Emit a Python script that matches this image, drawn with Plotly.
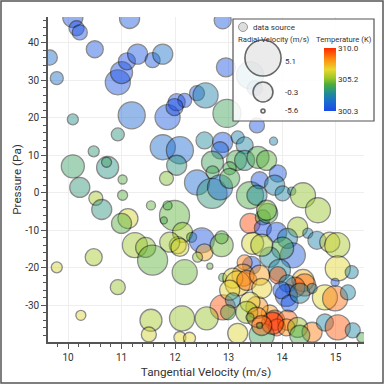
import plotly.graph_objects as go

# ---- data ----
tangential = [10.09,10.16,10.22,10.50,9.66,9.79,11.15,10.93,11.00,11.10,11.30,11.58,11.77,11.19,10.09,10.93,10.48,10.09,10.74,10.72,
              10.22,11.02,11.84,11.77,12.09,11.86,12.03,12.18,12.41,12.57,12.03,12.41,12.89,12.95,12.97,13.40,13.49,13.53,13.84,12.55,
              12.89,13.17,13.30,12.84,12.70,13.15,13.30,13.55,13.71,13.02,12.70,12.69,12.84,13.02,13.40,13.58,13.53,11.99,13.40,13.64,
              13.64,13.92,13.86,14.01,14.18,14.39,14.67,13.73,13.71,13.90,14.29,14.48,14.10,14.20,14.01,13.77,14.65,14.89,15.03,15.04,
              15.30,14.99,13.95,13.92,14.39,14.42,14.24,14.10,14.08,13.99,14.14,14.33,14.80,14.99,15.23,14.56,13.77,13.53,13.86,14.10,
              13.90,14.08,14.29,14.56,14.80,15.04,15.32,15.49,14.33,12.89,12.59,13.17,13.62,13.82,12.14,12.05,12.31,12.50,12.55,12.87,
              12.87,12.42,12.65,12.18,13.45,13.62,13.43,13.30,13.27,12.89,13.08,13.17,13.34,13.58,13.02,13.62,13.08,12.99,13.40,13.34,
              13.53,13.62,12.13,13.40,13.58,12.09,12.27,10.52,10.63,11.02,11.55,11.86,11.79,11.12,11.00,11.25,11.45,11.58,10.48,9.79,
              11.90,12.09,10.93,10.24,11.55,11.51,11.99]
pressure = [46.7,43.8,42.7,38.2,36.0,30.5,46.4,29.4,32.0,35.0,36.9,35.3,36.9,20.6,19.5,15.5,11.0,7.0,6.7,8.1,
            1.4,3.5,3.8,12.1,11.3,20.1,24.1,24.6,26.5,25.9,7.3,2.7,45.9,33.4,21.1,31.3,27.8,17.9,13.7,13.9,
            13.4,14.7,12.6,11.3,8.1,8.6,8.6,9.4,8.6,6.5,5.4,-0.2,1.4,3.8,-0.7,3.3,-0.7,-6.1,-8.2,-6.6,
            -9.5,5.1,2.0,-0.2,0.4,-0.7,-4.7,-5.5,-4.7,-10.6,-9.2,-10.8,-12.2,-16.7,-14.8,-17.2,-12.7,-13.2,-14.0,-20.2,
            -21.2,-23.9,-20.7,-22.0,-23.4,-24.6,-25.2,-24.2,-27.4,-26.0,-29.5,-26.8,-27.9,-28.2,-26.6,-25.5,-32.2,-30.6,-34.0,-34.0,
            -35.9,-35.9,-35.9,-37.2,-34.6,-35.9,-36.7,-38.6,-38.0,-30.6,-33.5,-37.5,-38.0,-34.8,-10.6,-14.0,-11.9,-12.7,-15.9,-14.0,
            -11.9,-17.2,-19.6,-21.2,-13.5,-14.0,-19.4,-18.6,-22.0,-22.6,-22.8,-24.2,-23.4,-22.0,-26.0,-25.5,-28.7,-31.9,-29.2,-31.9,
            -33.2,-35.4,-33.5,-33.2,-35.4,-38.6,-38.8,-1.5,-4.5,-0.7,-3.4,-3.4,-7.4,-6.9,-8.2,-14.0,-14.6,-18.0,-17.2,-19.9,
            -13.2,-14.6,-25.2,-32.7,-34.0,-37.8,22.8]
radial = [-0.27,-1.93,-1.93,-1.27,-1.93,-2.6,-0.27,1.4,0.4,-1.27,-0.27,-1.93,-0.27,2.07,-3.27,-2.6,-3.27,0.73,0.4,-3.6,
          -0.27,-3.93,-2.27,1.4,2.07,1.4,-1.27,-2.27,-1.93,1.4,-0.27,1.4,-1.27,-0.6,2.4,2.07,-1.93,-1.93,-4.27,-1.27,
          -0.27,-2.6,-1.27,-1.27,0.4,-0.27,-0.27,0.4,-0.27,-2.6,-2.6,3.07,1.4,-0.27,2.07,-1.27,-0.27,3.07,-0.27,-1.93,
          -1.27,-1.27,-0.27,-1.93,-4.27,1.4,1.4,-0.27,-0.27,-0.27,-0.27,-3.6,-0.27,1.4,0.4,-0.27,-0.93,-0.27,1.4,1.4,
          -2.6,-4.27,0.4,-1.27,0.4,0.4,-0.27,-1.27,0.4,-1.27,-1.27,-0.27,1.4,1.4,-1.93,-3.6,-1.27,0.4,-0.27,-0.27,
          -1.27,-1.27,-0.27,-0.27,-1.27,1.4,-1.93,-3.6,-0.27,1.4,0.73,-0.27,1.4,0.4,-0.27,-1.27,-3.6,1.4,-1.27,0.73,
          -2.6,-3.6,-4.93,1.4,0.4,0.4,-0.93,-1.93,0.4,-4.27,-0.27,1.4,-0.27,-0.27,-0.27,-0.27,-1.93,-1.93,-0.27,0.4,
          -0.27,-0.27,1.4,-4.27,-4.93,-2.93,-2.93,-2.27,-0.27,-3.6,-3.93,-3.93,-4.6,-0.27,-0.27,1.4,-0.27,3.07,-1.27,-3.27,
          -0.27,-0.93,-1.93,-3.6,0.4,-1.93,-1.27]
temperature = [300.6,300.4,300.7,300.8,301.8,301.9,300.9,300.7,300.5,300.4,300.8,300.9,301.9,301.6,303.2,303.4,303.6,303.8,303.3,303.9,
               303.5,304.5,305.0,301.8,301.7,300.9,300.6,300.5,300.8,302.6,303.4,301.7,300.9,300.7,304.0,302.8,301.9,300.7,302.6,302.9,
               300.8,302.5,302.7,301.5,304.0,304.2,303.4,304.3,304.6,304.2,304.0,303.5,301.8,304.2,304.3,300.7,302.8,304.6,309.5,304.4,
               300.4,300.9,302.6,302.7,302.9,305.2,305.3,304.1,305.0,300.8,305.4,302.6,302.6,301.0,304.3,302.9,302.6,306.5,305.6,306.6,
               302.7,300.8,302.8,309.2,307.5,309.0,309.3,302.7,300.5,300.8,300.9,302.8,306.6,308.8,302.7,302.8,308.0,308.2,309.8,309.0,
               309.3,308.3,305.3,308.6,302.7,309.2,302.7,304.3,304.3,309.3,305.3,306.5,304.0,309.9,305.3,306.4,304.3,300.7,307.8,304.8,
               304.4,305.1,304.6,304.8,306.4,305.6,300.5,308.5,308.0,304.4,306.7,307.2,308.8,308.0,306.6,306.8,302.8,304.3,306.5,305.4,
               308.2,309.0,305.3,304.3,304.3,306.6,306.7,305.6,303.4,304.5,304.6,304.3,304.2,306.3,304.5,305.4,305.2,304.6,305.5,306.3,
               305.3,306.3,305.3,306.5,305.5,306.2,300.4]

x_ticks = [10, 11, 12, 13, 14, 15]
y_ticks = [-30, -20, -10, 0, 10, 20, 30, 40]
y_ticktext = ["-30", "-20", "-10", "0", "10", "20", "30", "40"]
size_legend_vals = [5.1, -0.3, -5.6]
size_legend_text = ["5.1", "-0.3", "-5.6"]
temp_ticks = [300.3, 305.2, 310.0]
temp_ticktext = ["300.3", "305.2", "310.0"]
TMIN, TMAX = 300.3, 310.0
VMIN = -5.6

def diam(v):
    return 4 + (v - VMIN) * 3.0

colorscale = [[0.0, '#1a4ae8'], [0.15, '#1a6cd0'], [0.28, '#1e8c96'], [0.42, '#4aac40'],
              [0.52, '#9cc626'], [0.66, '#e8d830'], [0.82, '#ff8c10'], [1.0, '#ff2a00']]

# layout geometry (pixels)
W = H = 384
ML, MR, MT, MB = 48, 20, 17, 42
PW, PH = W - ML - MR, H - MT - MB
def xp(px):
    return (px - ML) / PW
def yp(py):
    return (H - MB - py) / PH

FONT = "Roboto"
TXT = "#333333"

fig = go.Figure()
fig.add_trace(go.Scatter(
    x=tangential, y=pressure, mode="markers", cliponaxis=True,
    marker=dict(
        size=[diam(v) for v in radial], sizemode="diameter",
        color=temperature, colorscale=colorscale, cmin=TMIN, cmax=TMAX,
        opacity=0.45, line=dict(color="#000000", width=1.3),
        showscale=True,
        colorbar=dict(
            x=xp(324), xanchor="left", y=yp(79.5), yanchor="middle",
            thickness=12, thicknessmode="pixels",
            len=63 / PH, lenmode="fraction",
            xpad=0, ypad=0, outlinewidth=0,
            tickmode="array", tickvals=temp_ticks, ticktext=temp_ticktext,
            ticks="", ticklabelposition="outside",
            tickfont=dict(family=FONT, size=8, color=TXT),
        ),
    ),
    showlegend=False, hoverinfo="skip",
))

shapes = []
annotations = []
# outer frame
shapes.append(dict(type="rect", xref="paper", yref="paper",
                   x0=xp(1), x1=xp(383), y0=yp(383), y1=yp(1),
                   line=dict(color="#555555", width=1.5), fillcolor="rgba(0,0,0,0)", layer="above"))
# legend box
shapes.append(dict(type="rect", xref="paper", yref="paper",
                   x0=xp(233), x1=xp(374), y0=yp(121), y1=yp(19),
                   line=dict(color="#555555", width=1.2), fillcolor="rgba(255,255,255,0.85)", layer="above"))
# data source marker
shapes.append(dict(type="circle", xref="paper", yref="paper", xsizemode="pixel", ysizemode="pixel",
                   xanchor=xp(243), yanchor=yp(27), x0=-4.5, x1=4.5, y0=-4.5, y1=4.5,
                   fillcolor="#dddddd", line=dict(color="#999999", width=1), layer="above"))
annotations.append(dict(text="data source", xref="paper", yref="paper", x=xp(251), y=yp(27),
                        xanchor="left", yanchor="middle", showarrow=False,
                        font=dict(family=FONT, size=8, color=TXT)))
annotations.append(dict(text="Radial Velocity (m/s)", xref="paper", yref="paper", x=xp(236), y=yp(39),
                        xanchor="left", yanchor="middle", showarrow=False,
                        font=dict(family=FONT, size=7.7, color=TXT)))
annotations.append(dict(text="Temperature (K)", xref="paper", yref="paper", x=xp(344), y=yp(39),
                        xanchor="center", yanchor="middle", showarrow=False,
                        font=dict(family=FONT, size=7.7, color=TXT)))
# size legend
centers_y = [58, 92, 111]
label_y = [61, 93, 111]
for v, t, cy, ly in zip(size_legend_vals, size_legend_text, centers_y, label_y):
    r = diam(v) / 2
    shapes.append(dict(type="circle", xref="paper", yref="paper", xsizemode="pixel", ysizemode="pixel",
                       xanchor=xp(263), yanchor=yp(cy), x0=-r, x1=r, y0=-r, y1=r,
                       fillcolor="rgba(210,210,210,0.45)", line=dict(color="#666666", width=1.6), layer="above"))
    annotations.append(dict(text=t, xref="paper", yref="paper", x=xp(283), y=yp(ly),
                            xanchor="left", yanchor="middle", showarrow=False,
                            font=dict(family=FONT, size=8, color=TXT)))

fig.update_layout(
    width=W, height=H,
    margin=dict(l=ML, r=MR, t=MT, b=MB, autoexpand=False),
    paper_bgcolor="white", plot_bgcolor="white",
    shapes=shapes, annotations=annotations,
    font=dict(family=FONT, color=TXT),
    xaxis=dict(
        range=[9.626, 15.53], tickmode="array", tickvals=x_ticks,
        showgrid=True, gridcolor="#eeeeee", gridwidth=1, zeroline=False,
        showline=True, linecolor="#555555", linewidth=1.5,
        ticks="outside", ticklen=5, tickcolor="#555555", tickwidth=1,
        minor=dict(dtick=0.2, tick0=10, ticks="outside", ticklen=3, tickcolor="#555555", showgrid=False),
        tickfont=dict(family=FONT, size=10, color=TXT),
        title=dict(text="Tangential Velocity (m/s)", font=dict(family=FONT, size=11.7, color=TXT), standoff=6),
    ),
    yaxis=dict(
        range=[-39.8, 46.8], tickmode="array", tickvals=y_ticks, ticktext=y_ticktext,
        showgrid=True, gridcolor="#eeeeee", gridwidth=1, zeroline=False,
        showline=True, linecolor="#555555", linewidth=1.5,
        ticks="outside", ticklen=5, tickcolor="#555555", tickwidth=1,
        minor=dict(dtick=2, tick0=0, ticks="outside", ticklen=3, tickcolor="#555555", showgrid=False),
        tickfont=dict(family=FONT, size=10, color=TXT),
        title=dict(text="Pressure (Pa)", font=dict(family=FONT, size=11.7, color=TXT), standoff=1),
    ),
)

fig.write_html("out.html", config={"displayModeBar": False},
               post_script="document.body.style.margin='0';document.body.style.padding='0';")
